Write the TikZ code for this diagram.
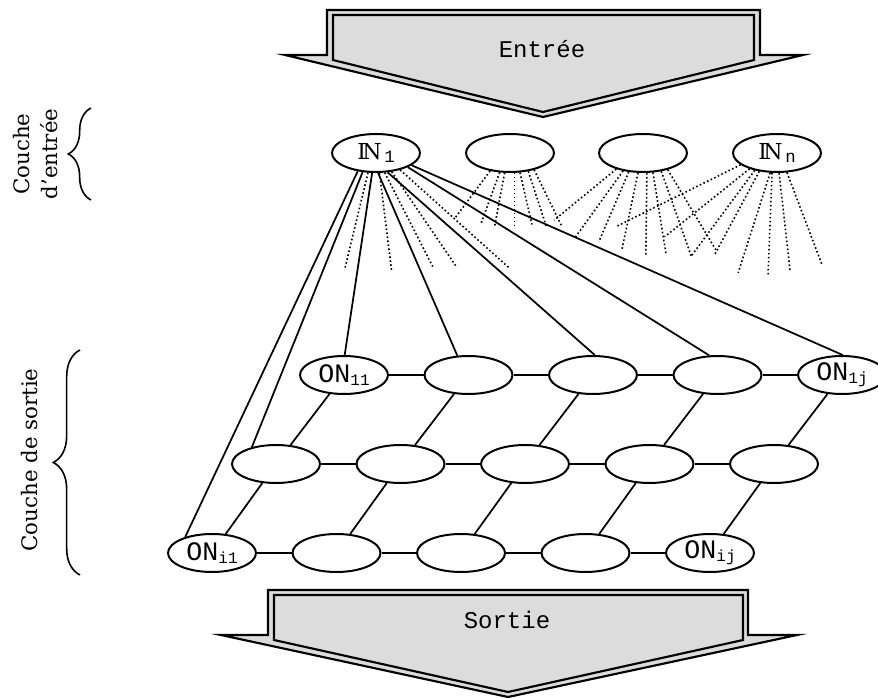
\documentclass[tikz,border=0pt]{standalone}
\usepackage{fontspec}
\setmainfont{DejaVu Serif}
\newfontfamily\lmono{Liberation Mono}
\usetikzlibrary{shapes.geometric,decorations.pathreplacing}
\definecolor{arrowfill}{RGB}{220,220,220}
\newcommand\onlab[1]{{\lmono\fontsize{20}{20}\selectfont ON\raisebox{-2.5pt}{\fontsize{12}{12}\selectfont #1}}}
\newcommand\inlab[1]{{\fontsize{16.5}{16.5}\selectfont I\kern-0.16em N}{\lmono\fontsize{13}{13}\selectfont\kern2pt\raisebox{-2.5pt}{#1}}}
\begin{document}
\begin{tikzpicture}[x=0.75pt,y=-0.75pt,
 neuron/.style={ellipse,draw,line width=1.5pt,minimum width=66pt,minimum height=28.5pt,inner sep=0pt},
 link/.style={line width=1.3pt},
 dots/.style={line width=1.2pt,dash pattern=on 1.2pt off 1.8pt},
 arrowline/.style={line width=1.6pt,line join=miter},
 banner/.style={font=\lmono\fontsize{18}{18}\selectfont,anchor=base,inner sep=0pt},
 layerlabel/.style={rotate=90,font=\fontsize{16}{21}\selectfont,align=center,inner sep=0pt},
 layerbrace/.style={decorate,line width=1.2pt}]
\useasboundingbox (0,0) rectangle (878,698);
\clip (0,0) rectangle (878,698);

% input arrow
\filldraw[arrowline,fill=arrowfill] (327,10) -- (760,10) -- (760,55) -- (803,55) -- (543,117) -- (285,55) -- (327,55) -- cycle;
\draw[arrowline] (333,15) -- (754,15) -- (754,60) -- (543,112) -- (333,60) -- cycle;
\node[banner] (entree) at (542,58) {Entrée};

% output arrow
\filldraw[arrowline,fill=arrowfill] (268,590) -- (748,590) -- (748,635) -- (797,635) -- (508,697) -- (221,635) -- (268,635) -- cycle;
\draw[arrowline] (274,595) -- (743,595) -- (743,640) -- (508,692) -- (274,640) -- cycle;
\node[banner] (sortie) at (507,628) {Sortie};

% input layer
\node[neuron] (IN1) at (376,153) {\inlab{1}};
\node[neuron] (IN2) at (510,153) {};
\node[neuron] (IN3) at (643,153) {};
\node[neuron] (INn) at (777,153) {\inlab{n}};

% output layer
\node[neuron] (O11) at (344,375) {\onlab{11}};
\node[neuron] (O12) at (468.5,375) {};
\node[neuron] (O13) at (593,375) {};
\node[neuron] (O14) at (717.5,375) {};
\node[neuron] (O15) at (842,375) {\onlab{1j}};
\node[neuron] (O21) at (276,464) {};
\node[neuron] (O22) at (400.5,464) {};
\node[neuron] (O23) at (525,464) {};
\node[neuron] (O24) at (649.5,464) {};
\node[neuron] (O25) at (774,464) {};
\node[neuron] (O31) at (212,553) {\onlab{i1}};
\node[neuron] (O32) at (336.5,553) {};
\node[neuron] (O33) at (461,553) {};
\node[neuron] (O34) at (585.5,553) {};
\node[neuron] (O35) at (710,553) {\onlab{ij}};

% grid links
\foreach \r in {1,2,3}{
  \foreach \k/\n in {1/2,2/3,3/4,4/5}{\draw[link] (O\r\k) -- (O\r\n);}
}
\foreach \k in {1,...,5}{
  \draw[link] (O1\k) -- (O2\k);
  \draw[link] (O2\k) -- (O3\k);
}

% IN1 solid links
\draw[link] (IN1.-135) -- (O31.149);
\draw[link] (IN1.-125) -- (O21.145);
\draw[link] (IN1.-101) -- (O11.88);
\draw[link] (IN1.-84) -- (O12.120);
\draw[link] (IN1.-59) -- (O13.85);
\draw[link] (IN1.-24) -- (O14.113);
\draw[link] (IN1.-19) -- (O15.88);

% dotted links
\foreach \a/\u/\v in {-112/-23/95, -80/12/97, -66/48/94, -50/64/94, -35/109/98}
  \draw[dots] (IN1.\a) -- ++(\u,\v);
\foreach \a/\u/\v in {-138/-35/47, -118/-19/52, -105/-10/53, -77/0/55, -63/12/52, -45/18/55, -35/28/57}
  \draw[dots] (IN2.\a) -- ++(\u,\v);
\foreach \a/\u/\v in {-149/-62/51, -138/-49/68, -127/-30/70, -104/-16/76, -79/-1/82, -63/13/81, -45/30/85, -34/48/80}
  \draw[dots] (IN3.\a) -- ++(\u,\v);
\foreach \a/\u/\v in {-162/-125/62, -150/-85/68, -142/-63/85, -134/-45/84, -109/-32/100, -104/-4/102, -84/11/98, -63/35/92}
  \draw[dots] (INn.\a) -- ++(\u,\v);

% layer braces and labels
\draw[layerbrace,decoration={brace,amplitude=17pt}] (91,200) -- (91,108);
\draw[layerbrace,decoration={brace,amplitude=20pt}] (80,575) -- (80,350);
\node[layerlabel] (inlayer) at (36,154) {Couche\\d'entrée};
\node[layerlabel,font=\fontsize{16}{16}\selectfont] (outlayer) at (30,460) {Couche de sortie};
\end{tikzpicture}
\end{document}
